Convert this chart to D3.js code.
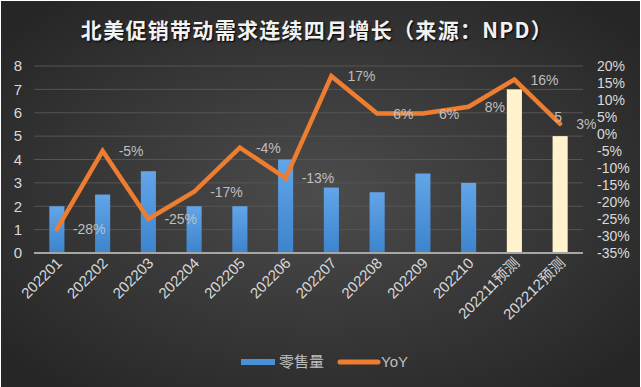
<!DOCTYPE html>
<html>
<head>
<meta charset="utf-8">
<script src="https://cdn.jsdelivr.net/npm/d3@7"></script>
<style>
  html, body { margin: 0; padding: 0; background: #fff; }
  svg { display: block; }
  text { font-family: "Liberation Sans", Arial, sans-serif; }
  .cjk { font-family: "Noto Sans CJK SC", "Noto Sans", sans-serif; }
</style>
</head>
<body>
<div id="chart"></div>
<script>
// data
const months = ["202201", "202202", "202203", "202204", "202205", "202206",
                "202207", "202208", "202209", "202210", "202211预测", "202212预测"];
const sales = [2, 2.5, 3.5, 2, 2, 4, 2.8, 2.6, 3.4, 3, 7, 5];
const yoy = [-28, -5, -25, -17, -4, -13, 17, 6, 6, 8, 16, 3];
const forecast = [false, false, false, false, false, false, false, false, false, false, true, true];
const leftTicks = [0, 1, 2, 3, 4, 5, 6, 7, 8];
const rightTicks = [20, 15, 10, 5, 0, -5, -10, -15, -20, -25, -30, -35];
const title = "北美促销带动需求连续四月增长（来源：NPD）";

const width = 641, height = 387;
const margin = { top: 66, right: 58, bottom: 134, left: 34 };

const svg = d3.select("#chart").append("svg")
    .attr("width", width)
    .attr("height", height);

const defs = svg.append("defs");
const bg = defs.append("radialGradient").attr("id", "bg")
    .attr("cx", "50%").attr("cy", "50%").attr("r", "65%");
bg.append("stop").attr("offset", "0%").attr("stop-color", "#4c4c4c");
bg.append("stop").attr("offset", "100%").attr("stop-color", "#262626");

const barGrad = defs.append("linearGradient").attr("id", "barBlue")
    .attr("x1", 0).attr("y1", 0).attr("x2", 0).attr("y2", 1);
barGrad.append("stop").attr("offset", "0%").attr("stop-color", "#62a5e8");
barGrad.append("stop").attr("offset", "100%").attr("stop-color", "#3d84cd");

svg.append("rect")
    .attr("x", 1).attr("y", 1)
    .attr("width", width - 2).attr("height", height - 1)
    .attr("fill", "url(#bg)");

// title
svg.append("text")
    .attr("class", "cjk")
    .attr("x", 317).attr("y", 38)
    .attr("text-anchor", "middle")
    .attr("fill", "#f2f2f2")
    .style("font-size", "21px")
    .style("font-weight", "bold")
    .style("letter-spacing", "1.3px")
    .style("text-shadow", "1px 1px 2px #000")
    .text(title);

const x = d3.scaleBand()
    .domain(months)
    .range([margin.left, width - margin.right])
    .paddingInner(0.67)
    .paddingOuter(0.335);

const y = d3.scaleLinear()
    .domain([0, 8])
    .range([height - margin.bottom, margin.top]);

const y2 = d3.scaleLinear()
    .domain([-35, 20])
    .range([height - margin.bottom, margin.top]);

// gridlines
svg.append("g")
    .selectAll("line")
    .data(leftTicks.slice(1))
    .enter().append("line")
    .attr("x1", margin.left).attr("x2", width - margin.right)
    .attr("y1", d => y(d)).attr("y2", d => y(d))
    .attr("stroke", "#555")
    .attr("stroke-width", 1);

// left axis
const yAxis = svg.append("g")
    .attr("transform", `translate(${margin.left - 12},0)`)
    .call(d3.axisLeft(y).tickValues(leftTicks).tickSize(0).tickPadding(0));
yAxis.select(".domain").remove();
yAxis.selectAll("text")
    .attr("fill", "#d9d9d9")
    .style("font-size", "15px")
    .style("font-family", "Liberation Sans, Arial, sans-serif");

// right axis
const y2Axis = svg.append("g")
    .attr("transform", `translate(${width - margin.right + 14},0)`)
    .call(d3.axisRight(y2).tickValues(rightTicks).tickSize(0).tickPadding(0)
        .tickFormat(d => d + "%"));
y2Axis.select(".domain").remove();
y2Axis.selectAll("text")
    .attr("fill", "#d9d9d9")
    .style("font-size", "14px")
    .style("font-family", "Liberation Sans, Arial, sans-serif");

// bars
svg.append("g")
    .selectAll("rect")
    .data(months)
    .enter().append("rect")
    .attr("x", d => x(d))
    .attr("width", x.bandwidth())
    .attr("y", (d, i) => y(sales[i]))
    .attr("height", (d, i) => y(0) - y(sales[i]))
    .attr("fill", (d, i) => forecast[i] ? "#fff2cc" : "url(#barBlue)");

// x axis baseline
svg.append("line")
    .attr("x1", margin.left).attr("x2", width - margin.right)
    .attr("y1", y(0)).attr("y2", y(0))
    .attr("stroke", "#a6a6a6")
    .attr("stroke-width", 2);

// x labels
svg.append("g")
    .selectAll("text")
    .data(months)
    .enter().append("text")
    .attr("class", "cjk")
    .attr("transform", d => `translate(${x(d) + x.bandwidth() / 2 + 6},${y(0) + 11}) rotate(-45)`)
    .attr("text-anchor", "end")
    .attr("fill", "#d9d9d9")
    .style("font-size", "15px")
    .style("font-family", "Liberation Sans, 'Noto Sans CJK SC', sans-serif")
    .text(d => d);

// YoY line
const line = d3.line()
    .x((d, i) => x(months[i]) + x.bandwidth() / 2)
    .y(d => y2(d));

svg.append("path")
    .datum(yoy)
    .attr("d", line)
    .attr("fill", "none")
    .attr("stroke", "#ed7d31")
    .attr("stroke-width", 4.5)
    .attr("stroke-linejoin", "miter")
    .attr("stroke-linecap", "round");

// YoY labels
svg.append("g")
    .selectAll("text")
    .data(yoy)
    .enter().append("text")
    .attr("x", (d, i) => x(months[i]) + x.bandwidth() / 2 + 16)
    .attr("y", d => y2(d))
    .attr("dy", "0.36em")
    .attr("fill", "#bfbfbf")
    .style("font-size", "14px")
    .text(d => d + "%");

// value label on the last bar
const last = months.length - 1;
svg.append("text")
    .attr("x", x(months[last]) + x.bandwidth() / 2 - 2)
    .attr("y", y(sales[last]) - 19)
    .attr("dy", "0.36em")
    .attr("text-anchor", "middle")
    .attr("fill", "#bfbfbf")
    .style("font-size", "14px")
    .text(sales[last]);

// legend
const legend = svg.append("g").attr("transform", "translate(241,362)");
legend.append("rect")
    .attr("x", 0).attr("y", -3)
    .attr("width", 34).attr("height", 6)
    .attr("fill", "#4a90d9");
legend.append("text")
    .attr("class", "cjk")
    .attr("x", 38).attr("y", 0)
    .attr("dy", "0.36em")
    .attr("fill", "#bfbfbf")
    .style("font-size", "15px")
    .text("零售量");
legend.append("line")
    .attr("x1", 99).attr("x2", 137)
    .attr("y1", 0).attr("y2", 0)
    .attr("stroke", "#ed7d31")
    .attr("stroke-width", 5)
    .attr("stroke-linecap", "round");
legend.append("text")
    .attr("x", 140).attr("y", 0)
    .attr("dy", "0.36em")
    .attr("fill", "#bfbfbf")
    .style("font-size", "15px")
    .text("YoY");
</script>
</body>
</html>
